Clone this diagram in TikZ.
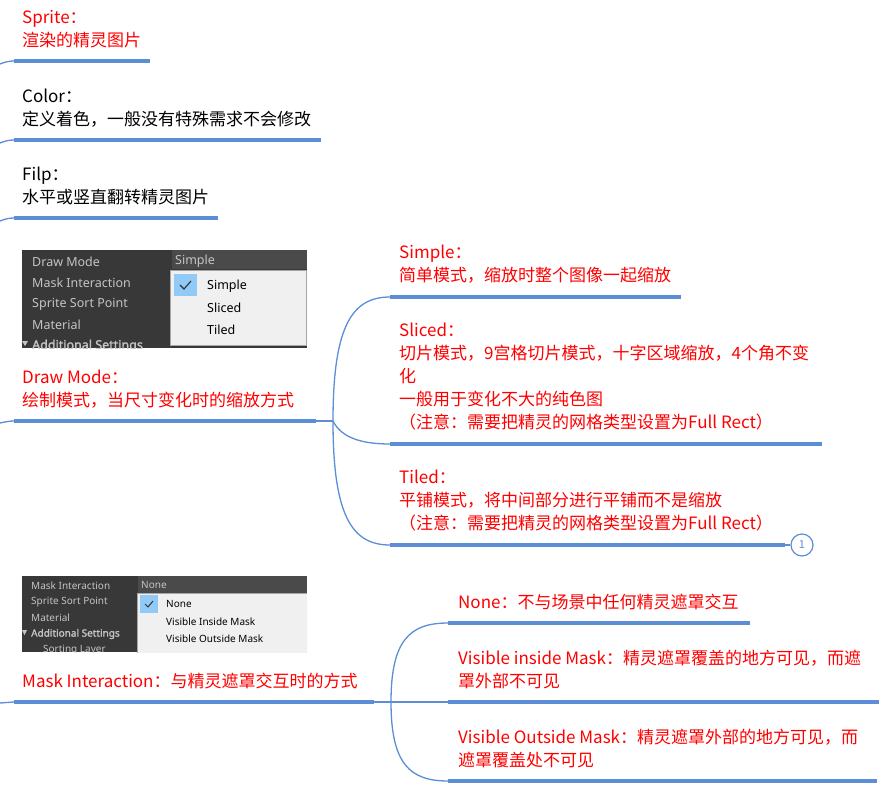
\documentclass[tikz,border=0pt]{standalone}
\usepackage{fontspec}
\setmainfont{Noto Sans CJK SC}
\newfontfamily\uifont{Noto Sans}
\newfontfamily\uibold[FakeBold=1.8]{Noto Sans}
\usetikzlibrary{positioning}

\definecolor{lineblue}{HTML}{5B8ED6}
\definecolor{topicred}{HTML}{FF0000}
\definecolor{panelgray}{HTML}{383838}
\definecolor{headgray}{HTML}{4A4A4A}
\definecolor{labelgray}{HTML}{C4C4C4}
\definecolor{listgray}{HTML}{F0F0F0}
\definecolor{checkblue}{HTML}{91C9F7}

\tikzset{
  uline/.style={draw=lineblue, line width=4pt},
  twig/.style={draw=lineblue, line width=1.3pt},
  topic/.style={inner sep=0pt, align=left, font=\fontsize{17}{23}\selectfont, execute at end node=\strut},
  redtopic/.style={topic, text=topicred},
  num/.style={circle, draw=lineblue, line width=1.2pt, fill=white, minimum size=22pt, inner sep=0pt, text=lineblue, font=\fontsize{11}{11}\selectfont},
  uilabel/.style={anchor=west, inner sep=0pt, text=labelgray, font=\uifont\fontsize{#1}{#1}\selectfont},
  uilabel/.default=12.5,
  uibold/.style={anchor=west, inner sep=0pt, text=labelgray, font=\uibold\fontsize{#1}{#1}\selectfont},
  uibold/.default=12.5,
  uiitem/.style={anchor=west, inner sep=0pt, text=black, font=\uifont\fontsize{#1}{#1}\selectfont},
  uiitem/.default=12.5,
}

\begin{document}
\begin{tikzpicture}[x=1pt, y=-1pt, node distance=7pt and 8pt]
\useasboundingbox (0,0) rectangle (892,798);

% top topics
\coordinate (sprite-u) at (14,61);
\coordinate (color-u) at (14,140);
\coordinate (filp-u) at (14,218);
\draw[twig] (0,64) .. controls (5,62) and (9,61) .. (sprite-u);
\draw[twig] (0,143) .. controls (5,141) and (9,140) .. (color-u);
\draw[twig] (0,221) .. controls (5,219) and (9,218) .. (filp-u);
\draw[uline] (sprite-u) -- ++(136,0);
\draw[uline] (color-u) -- ++(307,0);
\draw[uline] (filp-u) -- ++(204,0);
\node[redtopic, above right=of sprite-u] (sprite) {Sprite：\\渲染的精灵图片};
\node[topic, above right=of color-u] (color) {Color：\\定义着色，一般没有特殊需求不会修改};
\node[topic, above right=of filp-u] (filp) {Filp：\\水平或竖直翻转精灵图片};

% draw mode screenshot
\begin{scope}
\clip (22,250) rectangle (307,348);
\fill[panelgray] (22,250) rectangle (307,348);
\fill[headgray] (172,250) rectangle (307,269);
\filldraw[fill=listgray, draw=gray!70] (170.5,270.5) rectangle (306,345.5);
\fill[checkblue] (174,274) rectangle (197,296);
\draw[line width=1.1pt, black!80] (180,285) -- (184,289) -- (191,281);
\foreach \txt/\yy in {Draw Mode/262, Mask Interaction/283, Sprite Sort Point/304, Material/325}
  \node[uilabel] (dml-\yy) at (32,\yy) {\txt};
\node[uibold] (dml-add) at (32,346) {Additional Settings};
\fill[labelgray] (22,341) -- (28,341) -- (25,346) -- cycle;
\node[uilabel] (dm-head) at (175,261) {Simple};
\foreach \txt/\yy in {Simple/286, Sliced/308, Tiled/330}
  \node[uiitem] (dmi-\yy) at (207,\yy) {\txt};
\end{scope}

% draw mode
\coordinate (dm-u) at (14,421);
\coordinate (dm-e) at (316,421);
\coordinate (dm-b) at (333,421);
\draw[twig] (0,423) .. controls (5,422) and (9,421) .. (dm-u);
\draw[uline] (dm-u) -- (dm-e);
\draw[twig] (dm-e) -- (dm-b);
\node[redtopic, above right=of dm-u] (dm) {Draw Mode：\\绘制模式，当尺寸变化时的缩放方式};

\coordinate (simple-u) at (390,297);
\coordinate (sliced-u) at (390,444);
\coordinate (tiled-u) at (390,545);
\draw[twig] (dm-b) .. controls +(0,-95) and +(-38,0) .. (simple-u);
\draw[twig] (dm-b) .. controls +(8,16) and +(-30,0) .. (sliced-u);
\draw[twig] (dm-b) .. controls +(0,95) and +(-38,0) .. (tiled-u);
\draw[uline] (simple-u) -- ++(291,0);
\draw[uline] (sliced-u) -- ++(432,0);
\draw[uline] (tiled-u) -- ++(395,0) coordinate (tiled-e);
\node[num] (tiled-num) at (802,545) {1};
\draw[twig] (tiled-e) -- (tiled-num);
\node[redtopic, above right=8pt and 9pt of simple-u] (simple) {Simple：\\简单模式，缩放时整个图像一起缩放};
\node[redtopic, above right=8pt and 9pt of sliced-u] (sliced) {Sliced：\\切片模式，9宫格切片模式，十字区域缩放，4个角不变\\化\\一般用于变化不大的纯色图\\（注意：需要把精灵的网格类型设置为Full Rect）};
\node[redtopic, above right=8pt and 9pt of tiled-u] (tiled) {Tiled：\\平铺模式，将中间部分进行平铺而不是缩放\\（注意：需要把精灵的网格类型设置为Full Rect）};

% mask interaction screenshot
\begin{scope}
\clip (22,576) rectangle (307,652);
\fill[panelgray] (22,576) rectangle (307,652);
\fill[headgray] (138,576) rectangle (307,593);
\filldraw[fill=listgray, draw=gray!70] (137.5,593.5) rectangle (310,660);
\fill[checkblue] (140,595) rectangle (158,613);
\draw[line width=1pt, black!80] (145,604) -- (148,607) -- (153,601);
\foreach \txt/\yy in {Mask Interaction/586, Sprite Sort Point/602, Material/618}
  \node[uilabel=10] (mil-\yy) at (31,\yy) {\txt};
\node[uibold=10] (mil-add) at (31,634) {Additional Settings};
\fill[labelgray] (22,630) -- (27,630) -- (24.5,635) -- cycle;
\node[uilabel=10] (mil-sort) at (43,650) {Sorting Layer};
\node[uilabel=10] (mi-head) at (141,585) {None};
\foreach \txt/\yy in {None/604, Visible Inside Mask/622, Visible Outside Mask/639}
  \node[uiitem=10] (mii-\yy) at (166,\yy) {\txt};
\end{scope}

% mask interaction
\coordinate (mask-u) at (14,702);
\coordinate (mask-e) at (374,702);
\coordinate (mask-b) at (391,702);
\draw[twig] (0,703) -- (mask-u);
\draw[uline] (mask-u) -- (mask-e);
\node[redtopic, above right=of mask-u] (mask) {Mask Interaction：与精灵遮罩交互时的方式};

\coordinate (none-u) at (448,623);
\coordinate (inside-u) at (448,702);
\coordinate (outside-u) at (448,781);
\draw[twig] (mask-e) -- (mask-b) -- (inside-u);
\draw[twig] (mask-b) .. controls +(0,-62) and +(-38,0) .. (none-u);
\draw[twig] (mask-b) .. controls +(0,62) and +(-38,0) .. (outside-u);
\draw[uline] (none-u) -- ++(302,0);
\draw[uline] (inside-u) -- ++(431,0);
\draw[uline] (outside-u) -- ++(429,0);
\node[redtopic, above right=of none-u, xshift=2pt] (none) {None：不与场景中任何精灵遮罩交互};
\node[redtopic, above right=of inside-u, xshift=2pt] (inside) {Visible inside Mask：精灵遮罩覆盖的地方可见，而遮\\罩外部不可见};
\node[redtopic, above right=of outside-u, xshift=2pt] (outside) {Visible Outside Mask：精灵遮罩外部的地方可见，而\\遮罩覆盖处不可见};
\end{tikzpicture}
\end{document}
